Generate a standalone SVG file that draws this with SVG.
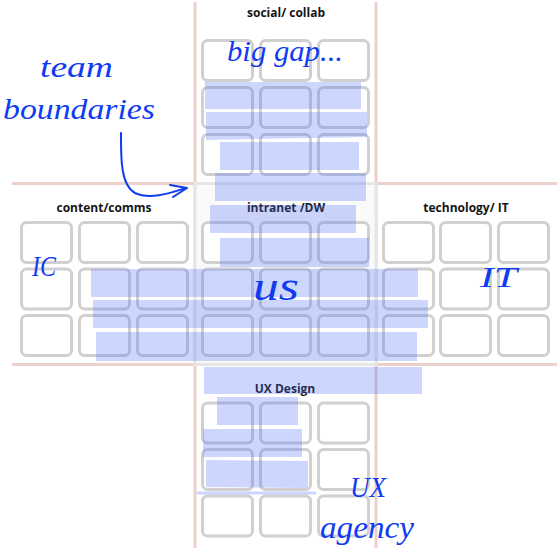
<svg xmlns="http://www.w3.org/2000/svg" width="559" height="552" viewBox="0 0 559 552">
<style>
.pink{stroke:#ecd0cc;stroke-width:3;fill:none}
.cell{fill:#fff;stroke:#d0d0d0;stroke-width:3}
.lbl{font-family:"Open Sans","Noto Sans",sans-serif;font-weight:bold;font-size:12px;fill:#141414;text-anchor:middle}
.hl{fill:#4a6cf7;opacity:0.28}
.hw{font-family:"Liberation Serif",serif;font-style:italic;fill:#0f3cf0}
.arr{fill:none;stroke:#0f3cf0;stroke-width:2;stroke-linecap:round;stroke-linejoin:round}
</style>
<defs>
<rect id="c" class="cell" width="50" height="40" rx="5"/>
</defs>
<rect width="559" height="552" fill="#fff"/>
<g id="boundaries">
<line class="pink" x1="195" y1="2" x2="195" y2="548"/>
<line class="pink" x1="376" y1="2" x2="376" y2="548"/>
<line class="pink" x1="12" y1="183.5" x2="557" y2="183.5"/>
<line class="pink" x1="12" y1="364.5" x2="557" y2="364.5"/>
<rect x="195" y="183.5" width="181" height="181" fill="#fafafa" stroke="#e6e6e6" stroke-width="3"/>
</g>
<g id="social-collab">
<text class="lbl" x="286" y="17">social/ collab</text>
<use href="#c" x="202.5" y="40.5"/><use href="#c" x="260.5" y="40.5"/><use href="#c" x="318.5" y="40.5"/>
<use href="#c" x="202.5" y="87.5"/><use href="#c" x="260.5" y="87.5"/><use href="#c" x="318.5" y="87.5"/>
<use href="#c" x="202.5" y="134.5"/><use href="#c" x="260.5" y="134.5"/><use href="#c" x="318.5" y="134.5"/>
</g>
<g id="content-comms">
<text class="lbl" x="104" y="212">content/comms</text>
<use href="#c" x="21.5" y="222.5"/><use href="#c" x="79.5" y="222.5"/><use href="#c" x="137.5" y="222.5"/>
<use href="#c" x="21.5" y="269"/><use href="#c" x="79.5" y="269"/><use href="#c" x="137.5" y="269"/>
<use href="#c" x="21.5" y="315.5"/><use href="#c" x="79.5" y="315.5"/><use href="#c" x="137.5" y="315.5"/>
</g>
<g id="intranet-dw">
<text class="lbl" x="286" y="212">intranet /DW</text>
<use href="#c" x="202.5" y="222.5"/><use href="#c" x="260.5" y="222.5"/><use href="#c" x="318.5" y="222.5"/>
<use href="#c" x="202.5" y="269"/><use href="#c" x="260.5" y="269"/><use href="#c" x="318.5" y="269"/>
<use href="#c" x="202.5" y="315.5"/><use href="#c" x="260.5" y="315.5"/><use href="#c" x="318.5" y="315.5"/>
</g>
<g id="technology-it">
<text class="lbl" x="466" y="212">technology/ IT</text>
<use href="#c" x="383.5" y="222.5"/><use href="#c" x="440.5" y="222.5"/><use href="#c" x="498.5" y="222.5"/>
<use href="#c" x="383.5" y="269"/><use href="#c" x="440.5" y="269"/><use href="#c" x="498.5" y="269"/>
<use href="#c" x="383.5" y="315.5"/><use href="#c" x="440.5" y="315.5"/><use href="#c" x="498.5" y="315.5"/>
</g>
<g id="ux-design">
<text class="lbl" x="285" y="393">UX Design</text>
<use href="#c" x="202.5" y="403"/><use href="#c" x="260.5" y="403"/><use href="#c" x="318.5" y="403"/>
<use href="#c" x="202.5" y="449.5"/><use href="#c" x="260.5" y="449.5"/><use href="#c" x="318.5" y="449.5"/>
<use href="#c" x="202.5" y="496"/><use href="#c" x="260.5" y="496"/><use href="#c" x="318.5" y="496"/>
</g>
<g id="highlights">
<rect class="hl" x="205" y="82" width="156" height="27"/>
<polygon class="hl" points="206,112 367,112 367,137 206,140"/>
<rect class="hl" x="220" y="142" width="139" height="28"/>
<rect class="hl" x="215" y="173" width="151" height="28"/>
<rect class="hl" x="210" y="205" width="146" height="28"/>
<rect class="hl" x="220" y="238" width="149" height="29"/>
<rect class="hl" x="91" y="269" width="327" height="28"/>
<rect class="hl" x="93" y="300" width="335" height="28"/>
<rect class="hl" x="96" y="332" width="321" height="29"/>
<rect class="hl" x="204" y="367" width="218" height="27"/>
<rect class="hl" x="217" y="397" width="81" height="28"/>
<rect class="hl" x="203" y="429" width="99" height="28"/>
<polygon class="hl" points="206,460 308,461 308,488 206,487"/>
<line x1="198" y1="493" x2="315" y2="493" stroke="#4a6cf7" stroke-width="3" opacity="0.28" stroke-linecap="round"/>
</g>
<g id="annotations">
<text class="hw" x="40" y="77" font-size="30" textLength="73" lengthAdjust="spacingAndGlyphs">team</text>
<text class="hw" x="3" y="119" font-size="30" textLength="152" lengthAdjust="spacingAndGlyphs">boundaries</text>
<text class="hw" x="227" y="61" font-size="30" textLength="116" lengthAdjust="spacingAndGlyphs">big gap...</text>
<text class="hw" x="32" y="276" font-size="30" textLength="24" lengthAdjust="spacingAndGlyphs">IC</text>
<text class="hw" x="253" y="300" font-size="42" textLength="46" lengthAdjust="spacingAndGlyphs">us</text>
<text class="hw" x="480" y="287" font-size="29" textLength="37" lengthAdjust="spacingAndGlyphs">IT</text>
<text class="hw" x="350" y="497" font-size="30" textLength="36" lengthAdjust="spacingAndGlyphs">UX</text>
<text class="hw" x="320" y="538" font-size="32" textLength="94" lengthAdjust="spacingAndGlyphs">agency</text>
</g>
<g id="connectors">
<path class="arr" d="M121,133 C121,155 120,185 135,193 C150,200 170,193 186,188"/>
<polyline class="arr" points="170,185 187,188 173,197"/>
</g>
</svg>
